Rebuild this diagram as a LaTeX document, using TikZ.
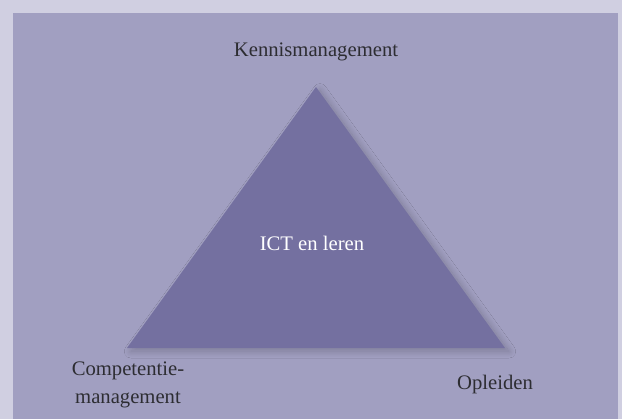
\documentclass[tikz,border=0pt]{standalone}
\usepackage{fontspec}
\setmainfont{Liberation Serif}
\usetikzlibrary{shadows.blur}
\definecolor{outerbg}{RGB}{208,207,225}
\definecolor{innerbg}{RGB}{161,159,193}
\definecolor{trifill}{RGB}{116,112,160}
\definecolor{txt}{RGB}{45,45,50}
\begin{document}
\begin{tikzpicture}[x=0.75pt,y=-0.75pt,
  lbl/.style={text=txt,font=\fontsize{15.5}{21}\selectfont,align=center,inner sep=0pt},
  trishape/.style={fill=trifill,draw=none,blur shadow={shadow xshift=3pt,shadow yshift=-2.5pt,shadow blur steps=24,shadow blur radius=5pt,shadow opacity=22}}]
\useasboundingbox (0,0) rectangle (622,419);
\fill[outerbg] (0,0) rectangle (622,419);
\fill[innerbg] (13,13) rectangle (618,419);
\coordinate (apex) at (316,87);
\coordinate (bl) at (127,348);
\coordinate (br) at (505,348);
\path[trishape] (apex) -- (br) -- (bl) -- cycle;
\node[lbl] (km) at (316,52) {Kennismanagement};
\node[lbl,text=white] (ict) at (312,243) {ICT en leren};
\node[lbl] (cm) at (128,385) {Competentie-\\management};
\node[lbl] (op) at (495,385) {Opleiden};
\end{tikzpicture}
\end{document}
